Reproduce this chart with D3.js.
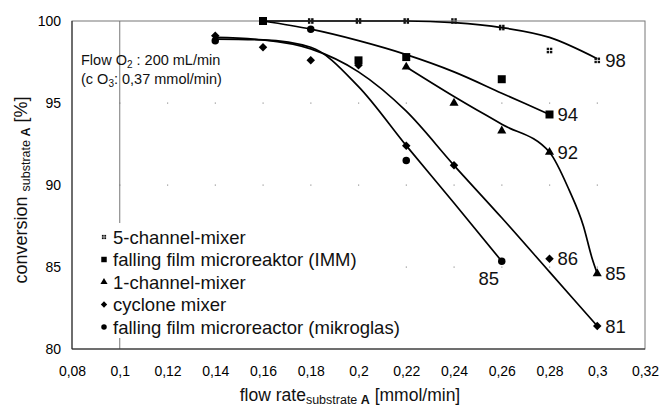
<!DOCTYPE html>
<html>
<head>
<meta charset="utf-8">
<script src="https://cdn.jsdelivr.net/npm/d3@7"></script>
<style>
  body { margin: 0; background: #fff; }
  svg { font-family: "Liberation Sans", Arial, sans-serif; }
</style>
</head>
<body>
<script>
const width = 660, height = 407;
const margin = {top: 21, right: 15, bottom: 58, left: 72};

// measured points
const fiveX = [0.16, 0.18, 0.20, 0.22, 0.24, 0.26, 0.28, 0.30];
const fiveY = [100, 100, 100, 100, 100, 99.6, 98.2, 97.6];
const immX = [0.16, 0.20, 0.22, 0.26, 0.28];
const immY = [100, 97.6, 97.8, 96.45, 94.3];
const oneX = [0.22, 0.24, 0.26, 0.28, 0.30];
const oneY = [97.2, 95.0, 93.3, 92.0, 84.6];
const cycX = [0.14, 0.16, 0.18, 0.20, 0.22, 0.24, 0.28, 0.30];
const cycY = [99.1, 98.4, 97.6, 97.3, 92.4, 91.2, 85.5, 81.4];
const mgX = [0.14, 0.18, 0.22, 0.26];
const mgY = [98.8, 99.5, 91.5, 85.35];

// trend lines
const fiveTX = [0.16, 0.18, 0.20, 0.22, 0.24, 0.26, 0.28, 0.30];
const fiveTY = [100, 100, 100, 100, 99.9, 99.6, 99.0, 97.7];
const immTX = [0.16, 0.18, 0.20, 0.22, 0.24, 0.26, 0.28];
const immTY = [100, 99.5, 98.8, 97.95, 96.9, 95.6, 94.3];
const oneTX = [0.22, 0.24, 0.26, 0.28, 0.2882, 0.2942, 0.2977, 0.30];
const oneTY = [97.2, 95.4, 93.7, 92.0, 89.7, 87.5, 85.6, 84.6];
const cycTX = [0.14, 0.16, 0.18, 0.20, 0.22, 0.24, 0.26, 0.28, 0.30];
const cycTY = [99.0, 98.85, 98.3, 96.9, 94.5, 91.2, 88.0, 84.7, 81.4];
const mgTX = [0.14, 0.16, 0.18, 0.20, 0.22, 0.24, 0.26];
const mgTY = [98.9, 98.85, 98.4, 96.0, 92.4, 88.9, 85.35];

const xTicks = [0.08, 0.10, 0.12, 0.14, 0.16, 0.18, 0.20, 0.22, 0.24, 0.26, 0.28, 0.30, 0.32];
const yTicks = [80, 85, 90, 95, 100];

const legendNames = ["5-channel-mixer", "falling film microreaktor (IMM)", "1-channel-mixer",
  "cyclone mixer", "falling film microreactor (mikroglas)"];
const endLabels = [
  {x: 0.30, y: 97.6, t: "98"}, {x: 0.28, y: 94.3, t: "94"}, {x: 0.28, y: 92.0, t: "92"},
  {x: 0.30, y: 84.6, t: "85"}, {x: 0.28, y: 85.5, t: "86"}, {x: 0.30, y: 81.4, t: "81"}
];
const belowLabel = {x: 0.26, y: 85.35, t: "85"};

const x = d3.scaleLinear().domain([0.08, 0.32]).range([margin.left, width - margin.right]);
const y = d3.scaleLinear().domain([80, 100]).range([height - margin.bottom, margin.top]);
const fmt = d => String(+d.toFixed(2)).replace(".", ",");

const svg = d3.select("body").append("svg")
    .attr("width", width)
    .attr("height", height);

// grid dots
xTicks.slice(1, -1).forEach(tx => {
  [85, 90, 95].forEach(ty => {
    svg.append("rect")
        .attr("x", x(tx) - 0.5).attr("y", y(ty) - 0.5)
        .attr("width", 1.2).attr("height", 1.2)
        .attr("fill", "#999");
  });
});

// vertical line at 0,1
svg.append("line")
    .attr("x1", x(0.1)).attr("x2", x(0.1))
    .attr("y1", y(100)).attr("y2", y(80))
    .attr("stroke", "#777").attr("stroke-width", 1);

// frame
svg.append("rect")
    .attr("x", x(0.08)).attr("y", y(100))
    .attr("width", x(0.32) - x(0.08)).attr("height", y(80) - y(100))
    .attr("fill", "none").attr("stroke", "#777");
svg.append("path")
    .attr("d", `M${x(0.08)},${y(100)}V${y(80)}H${x(0.32)}`)
    .attr("fill", "none").attr("stroke", "#222");

// axes (labels only)
svg.append("g")
    .attr("transform", `translate(0,${y(80)})`)
    .call(d3.axisBottom(x).tickValues(xTicks).tickFormat(fmt).tickSize(0).tickPadding(17))
    .call(g => g.select(".domain").remove())
    .selectAll("text")
    .attr("font-size", 14).attr("fill", "#000")
    .attr("font-family", "Liberation Sans, Arial, sans-serif");

svg.append("g")
    .attr("transform", `translate(${x(0.08)},0)`)
    .call(d3.axisLeft(y).tickValues(yTicks).tickSize(0).tickPadding(11))
    .call(g => g.select(".domain").remove())
    .selectAll("text")
    .attr("font-size", 14).attr("fill", "#000")
    .attr("font-family", "Liberation Sans, Arial, sans-serif");

// annotation
const note = svg.append("text").attr("font-size", 14.5).attr("fill", "#111");
const n1 = note.append("tspan").attr("x", 81).attr("y", 65);
n1.append("tspan").text("Flow O");
n1.append("tspan").attr("font-size", 10).attr("dy", 3).text("2");
n1.append("tspan").attr("dy", -3).text(" : 200 mL/min");
const n2 = note.append("tspan").attr("x", 81).attr("y", 84);
n2.append("tspan").text("(c O");
n2.append("tspan").attr("font-size", 10).attr("dy", 3).text("3");
n2.append("tspan").attr("dy", -3).text(": 0,37 mmol/min)");

// trend lines
const line = d3.line().x(d => x(d[0])).y(d => y(d[1])).curve(d3.curveMonotoneX);
[[fiveTX, fiveTY], [immTX, immTY], [oneTX, oneTY], [cycTX, cycTY], [mgTX, mgTY]].forEach(([xs, ys]) => {
  svg.append("path")
      .datum(xs.map((v, i) => [v, ys[i]]))
      .attr("d", line)
      .attr("fill", "none")
      .attr("stroke", "#000")
      .attr("stroke-width", 1.7);
});

// marker drawers
function dotted(g, cx, cy) {
  [[-2.8, -2.8], [0.4, -2.8], [-2.8, 0.4], [0.4, 0.4]].forEach(([dx, dy]) => {
    g.append("rect").attr("x", cx + dx).attr("y", cy + dy)
        .attr("width", 2.4).attr("height", 2.4).attr("fill", "#111");
  });
}
function sym(type, size, rot) {
  return (g, cx, cy) => g.append("path")
      .attr("d", d3.symbol().type(type).size(size)())
      .attr("transform", `translate(${cx},${cy}) rotate(${rot || 0})`)
      .attr("fill", "#000");
}
const drawers = [dotted, sym(d3.symbolSquare, 64), sym(d3.symbolTriangle, 36),
  sym(d3.symbolSquare, 36, 45), sym(d3.symbolCircle, 44)];
const seriesPts = [[fiveX, fiveY], [immX, immY], [oneX, oneY], [cycX, cycY], [mgX, mgY]];

const marks = svg.append("g");
seriesPts.forEach(([xs, ys], k) => {
  xs.forEach((v, i) => drawers[k](marks, x(v), y(ys[i])));
});

// end labels
svg.append("g").selectAll("text")
  .data(endLabels)
  .join("text")
    .attr("x", d => x(d.x) + 8)
    .attr("y", d => y(d.y) + 6.5)
    .attr("font-size", 18.5)
    .attr("fill", "#111")
    .text(d => d.t);
svg.append("text")
    .attr("x", x(belowLabel.x) - 13)
    .attr("y", y(belowLabel.y) + 23.5)
    .attr("text-anchor", "middle")
    .attr("font-size", 18.5)
    .attr("fill", "#111")
    .text(belowLabel.t);

// legend
const lg = svg.append("g");
lg.append("rect")
    .attr("x", 98).attr("y", 223).attr("width", 270).attr("height", 115)
    .attr("fill", "#fff");
const lsym = [dotted, sym(d3.symbolSquare, 30), sym(d3.symbolTriangle, 22),
  sym(d3.symbolSquare, 20, 45), sym(d3.symbolCircle, 24)];
legendNames.forEach((name, i) => {
  const cy = 237 + i * 22.5;
  if (i === 0) {
    const g = lg.append("g").attr("transform", `translate(${104},${cy}) scale(0.75)`);
    dotted(g, 0, 0);
  } else {
    lsym[i](lg, 104, cy);
  }
  lg.append("text")
      .attr("x", 113).attr("y", cy + 6.5)
      .attr("font-size", 18.5).attr("fill", "#111")
      .text(name);
});

// axis titles
const xt = svg.append("text")
    .attr("x", 350).attr("y", 401)
    .attr("text-anchor", "middle")
    .attr("font-size", 17.5).attr("fill", "#111");
xt.append("tspan").text("flow rate");
xt.append("tspan").attr("font-size", 12.5).attr("dy", 3).text("substrate ");
xt.append("tspan").attr("font-size", 12.5).attr("font-weight", "bold").text("A");
xt.append("tspan").attr("dy", -3).text(" [mmol/min]");

const yt = svg.append("text")
    .attr("transform", `translate(27,${190}) rotate(-90)`)
    .attr("text-anchor", "middle")
    .attr("font-size", 18).attr("fill", "#111");
yt.append("tspan").text("conversion ");
yt.append("tspan").attr("font-size", 12.5).attr("dy", 3).text("substrate ");
yt.append("tspan").attr("font-size", 12.5).attr("font-weight", "bold").text("A");
yt.append("tspan").attr("dy", -3).text(" [%]");
</script>
</body>
</html>
